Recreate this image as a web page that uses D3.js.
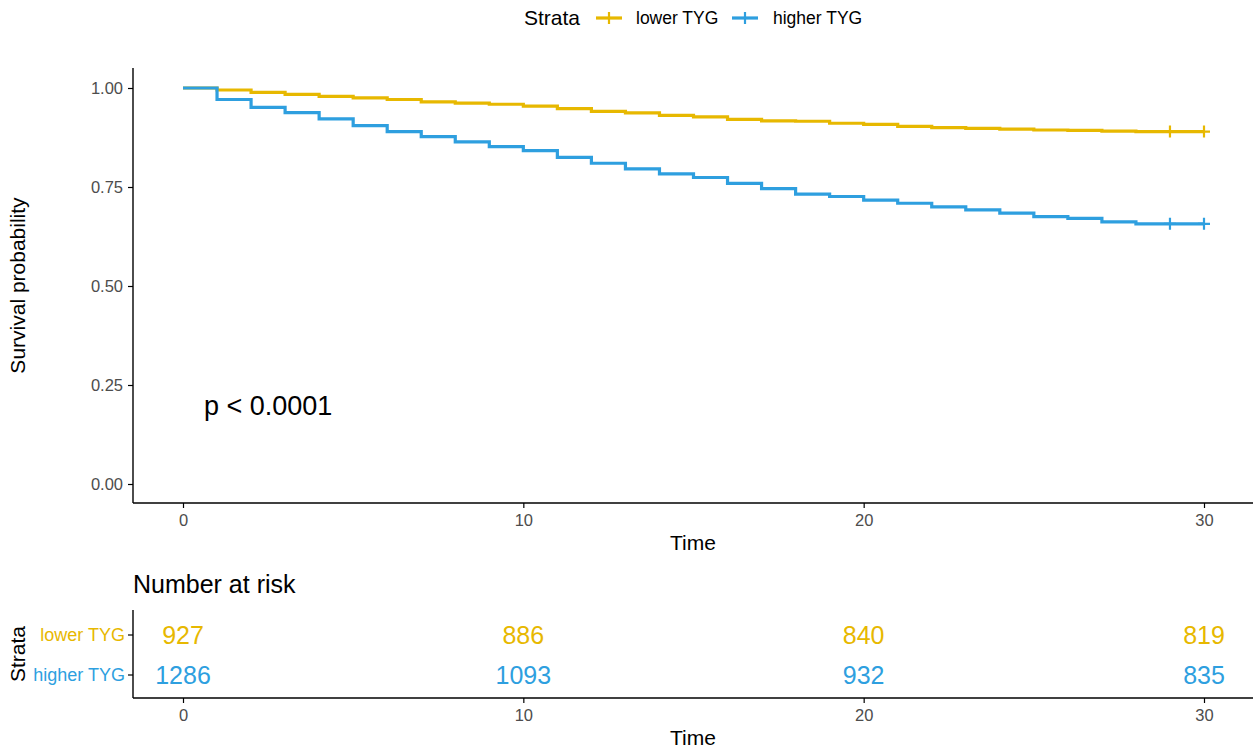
<!DOCTYPE html>
<html>
<head>
<meta charset="utf-8">
<script src="https://cdn.jsdelivr.net/npm/d3@7"></script>
<style>
  body{margin:0;background:#fff;}
  svg text{font-family:"Liberation Sans", Arial, sans-serif;}
</style>
</head>
<body>
<div id="chart"></div>
<script>
// ── data ──
const STRATA = ['lower TYG','higher TYG'];
const COLORS = ['#E7B800','#2E9FDF'];
const TIMES  = [0,1,2,3,4,5,6,7,8,9,10,11,12,13,14,15,16,17,18,19,20,21,22,23,24,25,26,27,28,29,30];
const SURV_LOWER  = [1.000,0.995,0.989,0.984,0.979,0.975,0.971,0.965,0.962,0.959,0.954,0.948,0.941,0.937,0.931,0.927,0.921,0.917,0.916,0.911,0.908,0.903,0.900,0.898,0.896,0.894,0.893,0.891,0.890,0.890,0.890];
const SURV_HIGHER = [1.000,0.971,0.951,0.938,0.922,0.905,0.890,0.877,0.864,0.852,0.842,0.825,0.810,0.796,0.783,0.774,0.759,0.746,0.732,0.726,0.717,0.709,0.700,0.692,0.684,0.675,0.671,0.662,0.657,0.657,0.657];
const CENSOR_T = [29,30];
const RISK_T = [0,10,20,30];
const RISK_LOWER  = [927,886,840,819];
const RISK_HIGHER = [1286,1093,932,835];
const X_TICKS = [0,10,20,30];
const Y_TICKS = [0,0.25,0.5,0.75,1];
const P_TEXT = 'p < 0.0001';

const W=1253, H=748;
const svg=d3.select('#chart').append('svg').attr('width',W).attr('height',H);
const axisCol='#000', tickTxt='#4d4d4d';
const TICK_FS='16.5px', TITLE_FS='21px', BIG_FS='27px';

/* ── main panel ── */
const P={l:133,r:1253,t:68,b:503};
const x=d3.scaleLinear().domain([0,30]).range([183,1204]);
const y=d3.scaleLinear().domain([0,1]).range([484,88]);

// axes
const gx=svg.append('g').attr('transform',`translate(0,${P.b})`)
  .call(d3.axisBottom(x).tickValues(X_TICKS).tickSize(5).tickPadding(6).tickFormat(d3.format('d')));
const gy=svg.append('g').attr('transform',`translate(${P.l},0)`)
  .call(d3.axisLeft(y).tickValues(Y_TICKS).tickSize(5).tickPadding(5).tickFormat(d3.format('.2f')));
[gx,gy].forEach(g=>{
  g.select('.domain').remove();
  g.selectAll('line').attr('stroke',axisCol).attr('stroke-width',1.2);
  g.selectAll('text').attr('fill',tickTxt).attr('font-size',TICK_FS);
});
svg.append('line').attr('x1',P.l).attr('x2',P.r).attr('y1',P.b).attr('y2',P.b).attr('stroke',axisCol).attr('stroke-width',1.4);
svg.append('line').attr('x1',P.l).attr('x2',P.l).attr('y1',P.t).attr('y2',P.b).attr('stroke',axisCol).attr('stroke-width',1.4);

svg.append('text').attr('x',(P.l+P.r)/2).attr('y',550).attr('text-anchor','middle')
  .attr('font-size',TITLE_FS).attr('fill','#000').text('Time');
svg.append('text').attr('transform',`translate(25,${(P.t+P.b)/2}) rotate(-90)`).attr('text-anchor','middle')
  .attr('font-size',TITLE_FS).attr('fill','#000').text('Survival probability');

// curves
const line=d3.line().x(d=>x(d[0])).y(d=>y(d[1])).curve(d3.curveStepAfter);
const series=[SURV_LOWER,SURV_HIGHER];
series.forEach((s,k)=>{
  const pts=TIMES.map((t,i)=>[t,s[i]]);
  svg.append('path').datum(pts).attr('d',line)
    .attr('fill','none').attr('stroke',COLORS[k]).attr('stroke-width',3.2);
  CENSOR_T.forEach(t=>{
    const v=s[TIMES.indexOf(t)];
    const cx=x(t), cy=y(v);
    svg.append('path').attr('d',`M${cx-6},${cy}H${cx+6}M${cx},${cy-6}V${cy+6}`)
      .attr('stroke',COLORS[k]).attr('stroke-width',2.2);
  });
});

svg.append('text').attr('x',204).attr('y',415).attr('font-size',BIG_FS).attr('fill','#000').text(P_TEXT);

/* ── legend ── */
const lg=svg.append('g');
lg.append('text').attr('x',524).attr('y',25).attr('font-size',TITLE_FS).attr('fill','#000').text('Strata');
const legX=[596,732], legT=[636,773];
STRATA.forEach((s,k)=>{
  const cx=legX[k]+13, cy=18;
  lg.append('line').attr('x1',legX[k]).attr('x2',legX[k]+26).attr('y1',cy).attr('y2',cy)
    .attr('stroke',COLORS[k]).attr('stroke-width',3.2);
  lg.append('path').attr('d',`M${cx-6},${cy}H${cx+6}M${cx},${cy-6}V${cy+6}`)
    .attr('stroke',COLORS[k]).attr('stroke-width',2.2);
  lg.append('text').attr('x',legT[k]).attr('y',24).attr('font-size','17.5px').attr('fill','#000').text(s);
});

/* ── risk table ── */
const R={t:610,b:698};
svg.append('text').attr('x',133).attr('y',593).attr('font-size','25px').attr('fill','#000').text('Number at risk');
const ry=d3.scaleBand().domain(STRATA).range([R.t+5,R.b-3]);
const gry=svg.append('g').attr('transform',`translate(${P.l},0)`)
  .call(d3.axisLeft(ry).tickSize(5).tickPadding(3));
gry.select('.domain').remove();
gry.selectAll('line').attr('stroke',axisCol).attr('stroke-width',1.2);
gry.selectAll('text').attr('font-size','18px').attr('fill',(d,i)=>COLORS[i]);
const grx=svg.append('g').attr('transform',`translate(0,${R.b})`)
  .call(d3.axisBottom(x).tickValues(X_TICKS).tickSize(5).tickPadding(6).tickFormat(d3.format('d')));
grx.select('.domain').remove();
grx.selectAll('line').attr('stroke',axisCol).attr('stroke-width',1.2);
grx.selectAll('text').attr('fill',tickTxt).attr('font-size',TICK_FS);
svg.append('line').attr('x1',P.l).attr('x2',P.r).attr('y1',R.b).attr('y2',R.b).attr('stroke',axisCol).attr('stroke-width',1.4);
svg.append('line').attr('x1',P.l).attr('x2',P.l).attr('y1',R.t).attr('y2',R.b).attr('stroke',axisCol).attr('stroke-width',1.4);

[RISK_LOWER,RISK_HIGHER].forEach((arr,k)=>{
  arr.forEach((v,i)=>{
    svg.append('text').attr('x',x(RISK_T[i])).attr('y',ry(STRATA[k])+ry.bandwidth()/2)
      .attr('text-anchor','middle').attr('dominant-baseline','central')
      .attr('font-size','25px').attr('fill',COLORS[k]).text(v);
  });
});
svg.append('text').attr('x',(P.l+P.r)/2).attr('y',745).attr('text-anchor','middle')
  .attr('font-size',TITLE_FS).attr('fill','#000').text('Time');
svg.append('text').attr('transform',`translate(25,${(R.t+R.b)/2}) rotate(-90)`).attr('text-anchor','middle')
  .attr('font-size',TITLE_FS).attr('fill','#000').text('Strata');
</script>
</body>
</html>
